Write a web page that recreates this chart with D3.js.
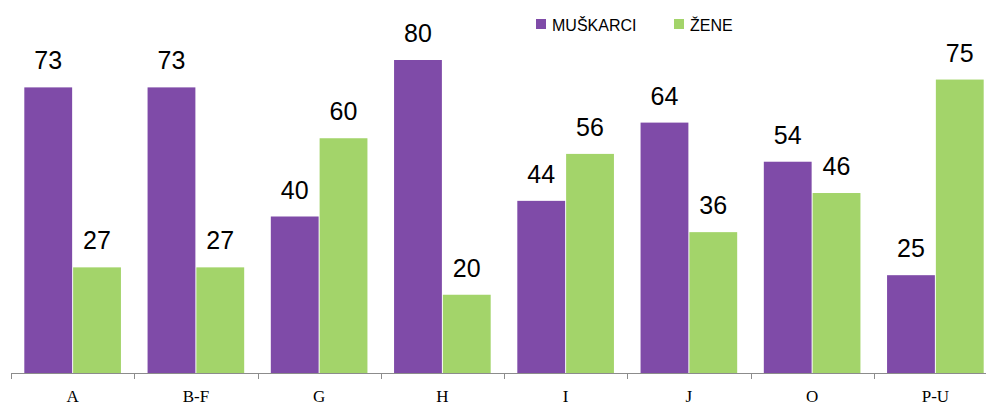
<!DOCTYPE html>
<html lang="hr">
<head>
  <meta charset="UTF-8">
  <title>Muškarci / Žene po djelatnostima</title>
  <script src="https://d3js.org/d3.v7.min.js"></script>
  <style>
    body { margin: 0; background: #fff; }
    svg { display: block; }
  </style>
</head>
<body>
  <div id="chart"></div>
  <script>
    const categories = ["A", "B-F", "G", "H", "I", "J", "O", "P-U"];
    const seriesNames = ["MUŠKARCI", "ŽENE"];
    const muskarci = [73, 73, 40, 80, 44, 64, 54, 25];
    const zene = [27, 27, 60, 20, 56, 36, 46, 75];
    const colors = ["#7f4ba8", "#a3d46a"];

    const width = 986, height = 407;
    const baseline = 373;

    const data = categories.map((c, i) => ({ cat: c, values: [muskarci[i], zene[i]] }));

    const svg = d3.select("#chart").append("svg")
      .attr("width", width)
      .attr("height", height);

    const x0 = d3.scaleBand()
      .domain(categories)
      .range([11, 997])
      .padding(0);

    const gw = x0.bandwidth();
    const x1 = d3.scaleBand()
      .domain([0, 1])
      .range([gw * 0.108, gw * 0.892])
      .paddingInner(0.02);

    const y = d3.scaleLinear()
      .domain([0, 80])
      .range([baseline, 60]);

    // bars
    const groups = svg.append("g")
      .selectAll("g")
      .data(data)
      .join("g")
      .attr("transform", d => `translate(${x0(d.cat)},0)`);

    groups.selectAll("rect")
      .data(d => d.values.map((v, k) => ({ k, v })))
      .join("rect")
      .attr("x", d => x1(d.k))
      .attr("y", d => y(d.v))
      .attr("width", x1.bandwidth())
      .attr("height", d => baseline - y(d.v))
      .attr("fill", d => colors[d.k]);

    groups.selectAll("text.val")
      .data(d => d.values.map((v, k) => ({ k, v })))
      .join("text")
      .attr("class", "val")
      .attr("x", d => x1(d.k) + x1.bandwidth() / 2)
      .attr("y", d => y(d.v) - 18)
      .attr("text-anchor", "middle")
      .style("font-family", "'Liberation Sans', Arial, sans-serif")
      .style("font-size", "25px")
      .style("fill", "#000")
      .text(d => d.v);

    // x axis
    const axis = svg.append("g")
      .attr("transform", `translate(0,${baseline})`)
      .call(d3.axisBottom(x0).tickSize(0).tickFormat(""));
    axis.select(".domain").remove();

    axis.append("line")
      .attr("x1", 11).attr("x2", 997)
      .attr("y1", 0.5).attr("y2", 0.5)
      .attr("stroke", "#8c8c8c");

    axis.selectAll(".edge")
      .data(categories)
      .join("line")
      .attr("class", "edge")
      .attr("x1", d => Math.round(x0(d)) + 0.5)
      .attr("x2", d => Math.round(x0(d)) + 0.5)
      .attr("y1", 0).attr("y2", 6)
      .attr("stroke", "#8c8c8c");

    axis.selectAll(".lbl")
      .data(categories)
      .join("text")
      .attr("class", "lbl")
      .attr("x", d => x0(d) + gw / 2)
      .attr("y", 29)
      .attr("text-anchor", "middle")
      .style("font-family", "'Liberation Serif', 'Times New Roman', serif")
      .style("font-size", "17px")
      .style("fill", "#000")
      .text(d => d);

    // legend
    const legendX = [536, 674];
    const legend = svg.append("g");
    seriesNames.forEach((name, k) => {
      legend.append("rect")
        .attr("x", legendX[k]).attr("y", 19)
        .attr("width", 10).attr("height", 10)
        .attr("fill", colors[k]);
      legend.append("text")
        .attr("x", legendX[k] + 16).attr("y", 30.5)
        .style("font-family", "'Liberation Sans', Arial, sans-serif")
        .style("font-size", "16px")
        .style("fill", "#000")
        .text(name);
    });
  </script>
</body>
</html>
